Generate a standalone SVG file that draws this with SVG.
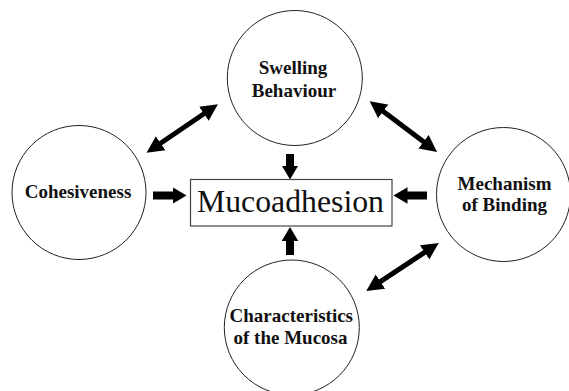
<svg xmlns="http://www.w3.org/2000/svg" width="569" height="391" viewBox="0 0 569 391">
  <style>
    .node circle { fill: #fff; stroke: #222; stroke-width: 1; }
    .lbl { font-family: "Liberation Serif", "Times New Roman", serif; font-weight: bold; font-size: 19px; fill: #111; text-anchor: middle; }
    .main { font-family: "Liberation Serif", "Times New Roman", serif; font-size: 31px; fill: #111; text-anchor: middle; }
    .dbl { stroke: #000; stroke-width: 5; fill: none; marker-start: url(#head); marker-end: url(#head); }
    .blk { stroke: #000; stroke-width: 8; fill: none; marker-end: url(#block); }
  </style>
  <defs>
    <marker id="head" viewBox="0 -9 18 18" refX="0.5" refY="0" markerWidth="18" markerHeight="18" markerUnits="userSpaceOnUse" orient="auto-start-reverse">
      <path d="M0,-8.5 L17,0 L0,8.5 z" fill="#000"/>
    </marker>
    <marker id="block" viewBox="0 -9 15 18" refX="0.5" refY="0" markerWidth="15" markerHeight="18" markerUnits="userSpaceOnUse" orient="auto">
      <path d="M0,-8.3 L14,0 L0,8.3 z" fill="#000"/>
    </marker>
  </defs>
  <rect width="569" height="391" fill="#fff"/>

  <g id="connectors">
    <line class="dbl" x1="160.2" y1="143.5" x2="204.3" y2="113.5"/>
    <line class="dbl" x1="382.8" y1="111.1" x2="423.9" y2="142.1"/>
    <line class="dbl" x1="425.0" y1="252.1" x2="380.0" y2="281.9"/>
    <line class="blk" x1="290" y1="154" x2="290" y2="166"/>
    <line class="blk" x1="153" y1="195.5" x2="173" y2="195.5"/>
    <line class="blk" x1="427" y1="195.5" x2="407" y2="195.5"/>
    <line class="blk" x1="290" y1="255" x2="290" y2="240.5"/>
  </g>

  <g id="swelling" class="node">
    <circle cx="294.8" cy="78" r="67.5"/>
    <text class="lbl" x="293" y="74">Swelling</text>
    <text class="lbl" x="294" y="96.5">Behaviour</text>
  </g>

  <g id="cohesiveness" class="node">
    <circle cx="79" cy="192.5" r="67"/>
    <text class="lbl" x="78" y="198.3">Cohesiveness</text>
  </g>

  <g id="mechanism" class="node">
    <circle cx="503.5" cy="194.5" r="67"/>
    <text class="lbl" x="504.5" y="190">Mechanism</text>
    <text class="lbl" x="504.5" y="210.7">of Binding</text>
  </g>

  <g id="mucosa" class="node">
    <circle cx="291.8" cy="327.5" r="67.5"/>
    <text class="lbl" x="291.3" y="322.3">Characteristics</text>
    <text class="lbl" x="290.5" y="344">of the Mucosa</text>
  </g>

  <g id="mucoadhesion">
    <rect x="190.5" y="179.5" width="201.5" height="46.5" fill="#fff" stroke="#444" stroke-width="1.2"/>
    <text class="main" x="290.5" y="211.5" textLength="187" lengthAdjust="spacingAndGlyphs">Mucoadhesion</text>
  </g>
</svg>
